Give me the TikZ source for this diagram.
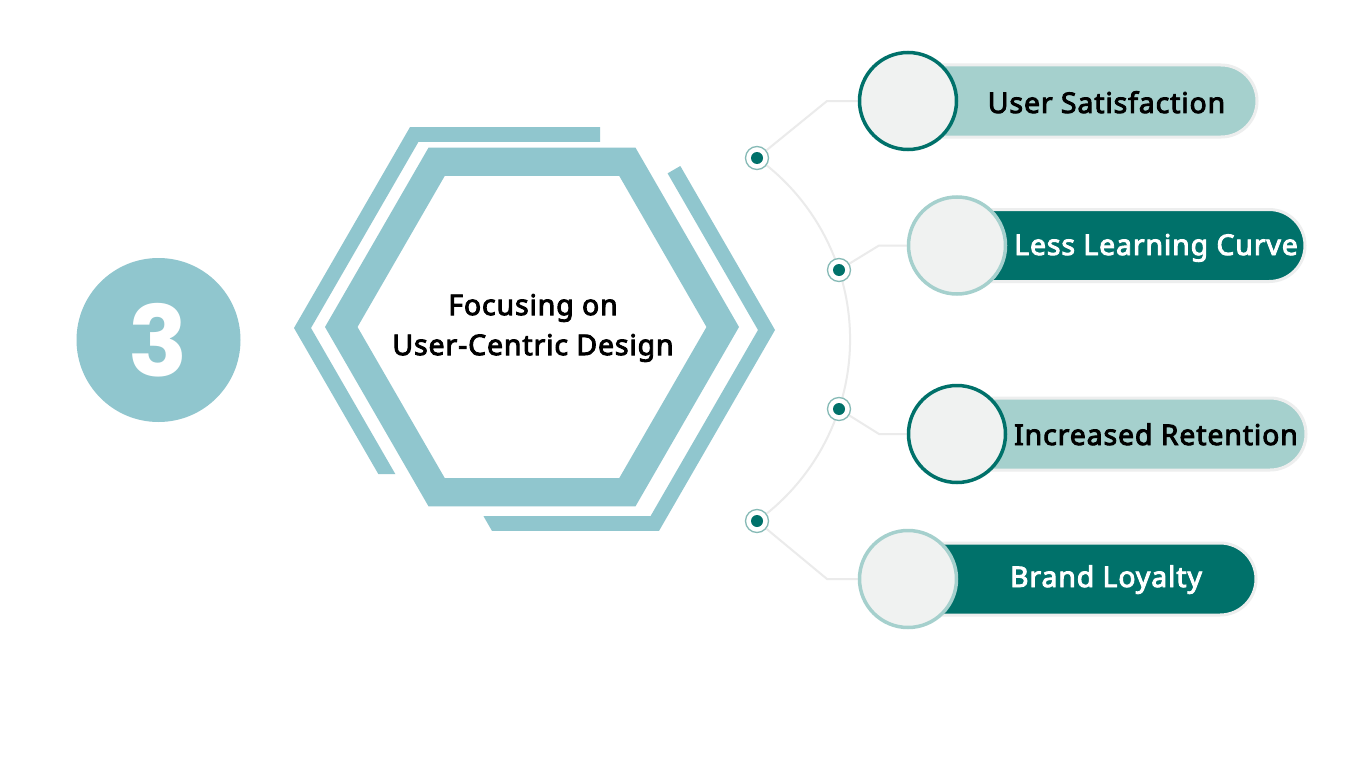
\documentclass[tikz,border=0pt]{standalone}
\usepackage{fontspec}
\setmainfont{Noto Sans}[BoldFont={Noto Sans},BoldFeatures={FakeBold=3.2,LetterSpace=3}]
\newfontfamily\numfont{Poppins}
\usetikzlibrary{shapes.misc,backgrounds}
\definecolor{hexc}{HTML}{90C6CE}
\definecolor{lteal}{HTML}{A5D0CD}
\definecolor{dteal}{HTML}{00716A}
\definecolor{bub}{HTML}{F0F2F1}
\definecolor{connc}{HTML}{EBEBEB}
\definecolor{rimc}{HTML}{EDEEEE}
\definecolor{ringc}{HTML}{86BAB6}
\begin{document}
\begin{tikzpicture}[x=1pt,y=-1pt,
  conn/.style={draw=connc,line width=2pt},
  dotnode/.style={circle,draw=ringc,fill=white,line width=1.3pt,minimum size=23pt,inner sep=0pt,
    path picture={\fill[dteal] (path picture bounding box.center) circle[radius=6pt];}},
  pillbox/.style={rounded rectangle,rounded rectangle left arc=none,minimum height=72pt,
    inner sep=0pt,draw=rimc,line width=3pt},
  bubble/.style={circle,minimum size=97pt,inner sep=0pt,fill=bub,line width=3.5pt},
  lbl/.style={font=\fontsize{28.5}{34}\selectfont\bfseries,anchor=base,inner sep=0pt}]
\useasboundingbox (0,0) rectangle (1366,768);
\begin{pgfonlayer}{background}
\fill[white] (0,0) rectangle (1366,768);
\end{pgfonlayer}

% number circle
\node[circle,fill=hexc,minimum size=164pt,inner sep=0pt,text=white,
  font=\numfont\bfseries\fontsize{98}{98}\selectfont] (num) at (158.5,340) {3};

% hexagon frames
\fill[hexc,even odd rule]
  (739,327) -- (635.5,147.7) -- (428.5,147.7) -- (325,327) -- (428.5,506.3) -- (635.5,506.3) -- cycle
  (706.5,327) -- (619.25,175.9) -- (444.75,175.9) -- (357.5,327) -- (444.75,478.1) -- (619.25,478.1) -- cycle;
\fill[hexc] (600,127.1) -- (410,127.1) -- (294,328) -- (378.3,474) -- (395.3,474)
  -- (311,328) -- (418.5,141.8) -- (600,141.8) -- cycle;
\fill[hexc] (680.3,166) -- (775,330) -- (659,530.9) -- (492,530.9) -- (483.5,516.2)
  -- (650.5,516.2) -- (758,330) -- (667.6,173.35) -- cycle;
\node[align=center,font=\fontsize{28.5}{40}\selectfont\bfseries,inner sep=0pt] (title) at (533,328)
  {Focusing on\\User-Centric Design};

% pills
\node[pillbox,fill=lteal,minimum width=349pt] (p1) at (1082.5,101) {};
\node[pillbox,fill=dteal,minimum width=348pt] (p2) at (1131,245.5) {};
\node[pillbox,fill=lteal,minimum width=350pt] (p3) at (1131,434) {};
\node[pillbox,fill=dteal,minimum width=348pt] (p4) at (1082,579) {};

\node[bubble,draw=dteal] (c1) at (908,101) {};
\node[bubble,draw=lteal] (c2) at (957,245.5) {};
\node[bubble,draw=dteal] (c3) at (957,434) {};
\node[bubble,draw=lteal] (c4) at (908,579) {};

\node[lbl,text=black] (t1) at (1106.5,113) {User Satisfaction};
\node[lbl,text=white] (t2) at (1156,255) {Less Learning Curve};
\node[lbl,text=black] (t3) at (1156,445) {Increased Retention};
\node[lbl,text=white] (t4) at (1106,587) {Brand Loyalty};

% dots
\node[dotnode] (d1) at (757,158) {};
\node[dotnode] (d2) at (839,270) {};
\node[dotnode] (d3) at (839,409) {};
\node[dotnode] (d4) at (757,521) {};

\coordinate (b1) at (827,101);
\coordinate (b2) at (879,245.5);
\coordinate (b3) at (879,434);
\coordinate (b4) at (827,579);

\begin{pgfonlayer}{background}
\draw[conn] (d1.center) arc[start angle=-54.3,end angle=54.3,radius=223.5];
\draw[conn] (d1) -- (b1) -- (c1);
\draw[conn] (d2) -- (b2) -- (c2);
\draw[conn] (d3) -- (b3) -- (c3);
\draw[conn] (d4) -- (b4) -- (c4);
\end{pgfonlayer}
\end{tikzpicture}
\end{document}
